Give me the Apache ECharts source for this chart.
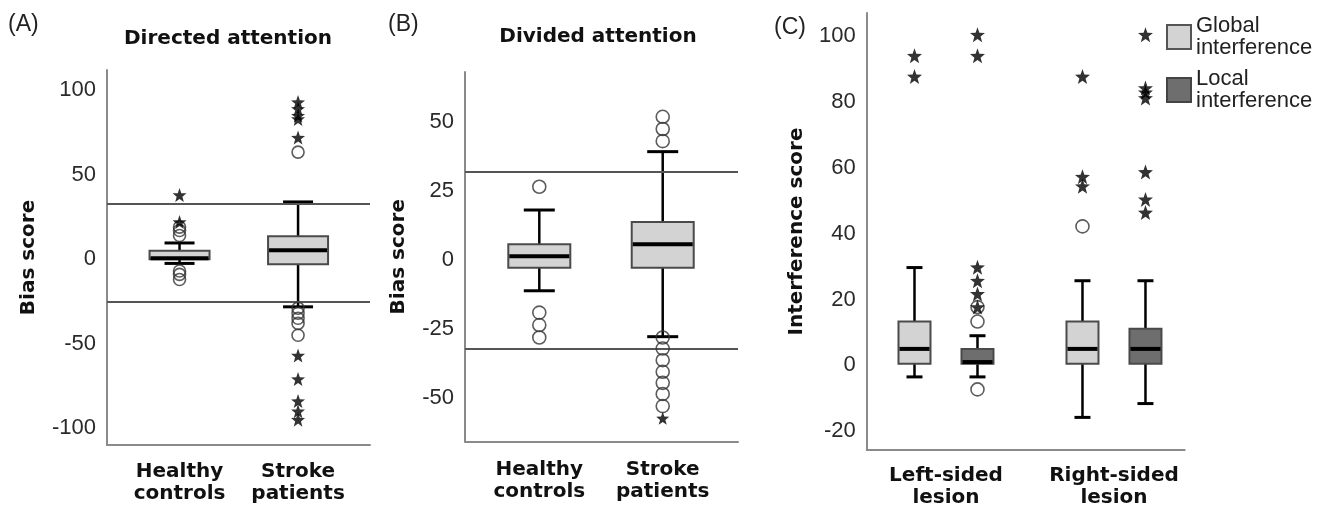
<!DOCTYPE html>
<html><head><meta charset="utf-8">
<script src="https://cdn.jsdelivr.net/npm/echarts@6/dist/echarts.min.js"></script>
<style>html,body{margin:0;padding:0;background:#fff}#c{width:1331px;height:509px}</style>
</head><body><div id="c"></div><script>
// ---------- DATA ----------
// Panel A: Directed attention
const A_categories = ['Healthy\ncontrols', 'Stroke\npatients'];
const A_stats = [            // [min, Q1, median, Q3, max]
  [-2.5, 0, 0.5, 5, 9.6],
  [-28.2, -3, 5.3, 13.6, 33.9]
];
const A_circles = [[19, 17, 14, -7, -9, -12], [63.4, -29, -32, -35, -38, -45]];
const A_stars = [[38, 22], [93, 89, 85, 83, 72, -57, -71, -84, -90, -95]];
const A_refLines = [33, -25];
const A_ticks = [-100, -50, 0, 50, 100];

// Panel B: Divided attention
const B_categories = ['Healthy\ncontrols', 'Stroke\npatients'];
const B_stats = [
  [-11.1, -2.8, 1.4, 5.7, 18.1],
  [-27.7, -2.8, 5.7, 13.8, 39.2]
];
const B_circles = [[26.5, -19, -23.5, -28], [51.8, 47.4, 43, -28, -32, -36.2, -40.4, -44.4, -48.4, -52.8]];
const B_stars = [[], [-57.2]];
const B_refLines = [32, -32];
const B_ticks = [-50, -25, 0, 25, 50];

// Panel C: Interference
const C_categories = ['Left-sided\nlesion', 'Right-sided\nlesion'];
const C_series = ['Global interference', 'Local interference'];
const C_globalStats = [[-3.5, 0.5, 5, 13.3, 29.7], [-15.8, 0.5, 5, 13.3, 25.7]];
const C_localStats = [[-3.5, 0.5, 1.0, 5.0, 9.0], [-11.6, 0.5, 5, 11.1, 25.7]];
const C_globalCircles = [[], [42.2]];
const C_globalStars = [[94, 87.7], [87.7, 57.3, 54.4]];
const C_localCircles = [[-7.3, 13.3, 17.7], []];
const C_localStars = [[100.4, 94, 29.8, 25.7, 21.7, 17.7], [100.4, 84.2, 82.9, 81.2, 58.7, 50.4, 46.4]];
const C_ticks = [-20, 0, 20, 40, 60, 80, 100];

// ---------- STYLE / LAYOUT ----------
const STAR = 'path://M0,-10L2.4,-3.3L9.5,-3.1L3.9,1.3L5.9,8.1L0,4.1L-5.9,8.1L-3.9,1.3L-9.5,-3.1L-2.4,-3.3Z';
const LIGHT = '#d3d3d3', DARK = '#6e6e6e';
const C_OFFSET = 0.1875; // half distance between paired boxes (category units)
const tickFont = {fontFamily: 'Liberation Sans', fontSize: 22, color: '#2a2a2a'};
const boldFont = {fontFamily: 'DejaVu Sans', fontWeight: 'bold', fontSize: 20, color: '#111'};

function boxRender(boxW, capW, fill) {
  return function (params, api) {
    const x = api.value(0);
    const p = [1, 2, 3, 4, 5].map(d => api.coord([x, api.value(d)]));
    const cx = p[0][0];
    const yMin = p[0][1], yQ1 = p[1][1], yMed = p[2][1], yQ3 = p[3][1], yMax = p[4][1];
    const ln = (x1, y1, x2, y2, w) => ({type: 'line', shape: {x1, y1, x2, y2}, style: {stroke: '#000', lineWidth: w}});
    return {type: 'group', children: [
      ln(cx, yMax, cx, yQ3, 2.5),
      ln(cx, yQ1, cx, yMin, 2.5),
      ln(cx - capW / 2, yMax, cx + capW / 2, yMax, 3),
      ln(cx - capW / 2, yMin, cx + capW / 2, yMin, 3),
      {type: 'rect', shape: {x: cx - boxW / 2, y: yQ3, width: boxW, height: yQ1 - yQ3},
       style: {fill: fill, stroke: '#4a4a4a', lineWidth: 2}},
      ln(cx - boxW / 2 + 1, yMed, cx + boxW / 2 - 1, yMed, 4)
    ]};
  };
}
function points(lists, off) {
  const out = [];
  lists.forEach((l, i) => l.forEach(v => out.push([i + off, v])));
  return out;
}
function xAxisCfg(idx, min, max, cats, margin) {
  return {gridIndex: idx, type: 'value', min, max,
    axisLine: {show: true, onZero: false, lineStyle: {color: '#8a8a8a', width: 2}},
    axisTick: {show: false}, splitLine: {show: false},
    axisLabel: {customValues: [0, 1], formatter: v => cats[Math.round(v)], margin: margin,
      lineHeight: 22, ...boldFont}};
}
function yAxisCfg(idx, min, max, ticks, name, gap) {
  return {gridIndex: idx, type: 'value', min, max, name, nameLocation: 'middle', nameGap: gap,
    nameTextStyle: {...boldFont},
    axisLine: {show: true, onZero: false, lineStyle: {color: '#8a8a8a', width: 2}},
    axisTick: {show: false}, splitLine: {show: false},
    axisLabel: {customValues: ticks, margin: 11, ...tickFont}};
}
function circleSeries(idx, data, size, extra) {
  return Object.assign({type: 'scatter', xAxisIndex: idx, yAxisIndex: idx, data, symbol: 'circle', symbolSize: size,
    itemStyle: {color: 'rgba(0,0,0,0)', borderColor: '#333', borderWidth: 1.6}, z: 5, silent: true}, extra || {});
}
function starSeries(idx, data, size) {
  return {type: 'scatter', xAxisIndex: idx, yAxisIndex: idx, data, symbol: STAR, symbolSize: size,
    itemStyle: {color: '#000'}, z: 6, silent: true};
}
function refLines(vals) {
  return {silent: true, symbol: 'none', label: {show: false},
    lineStyle: {color: '#555', width: 2, type: 'solid'}, data: vals.map(v => ({yAxis: v}))};
}

const option = {
  animation: false,
  backgroundColor: '#fff',
  grid: [
    {left: 107, top: 70, width: 263, height: 375},
    {left: 465, top: 72, width: 273, height: 369.5},
    {left: 866.7, top: 13, width: 318, height: 438.7}
  ],
  xAxis: [
    xAxisCfg(0, -0.612, 1.607, A_categories, 16),
    xAxisCfg(1, -0.602, 1.61, B_categories, 17),
    xAxisCfg(2, -0.472, 1.421, C_categories, 15)
  ],
  yAxis: [
    yAxisCfg(0, -110, 112, A_ticks, 'Bias score', 68),
    yAxisCfg(1, -65.6, 68, B_ticks, 'Bias score', 56),
    yAxisCfg(2, -25.7, 107, C_ticks, 'Interference score', 60)
  ],
  legend: {
    orient: 'vertical', left: 1166, top: 15, padding: 0, itemWidth: 24, itemHeight: 24, itemGap: 9,
    selectedMode: false, formatter: n => n.replace(' ', '\n'),
    textStyle: {fontFamily: 'Liberation Sans', fontSize: 22, lineHeight: 22, color: '#222'},
    data: [
      {name: C_series[0], icon: 'rect', itemStyle: {color: LIGHT, borderColor: '#555', borderWidth: 2}},
      {name: C_series[1], icon: 'rect', itemStyle: {color: DARK, borderColor: '#444', borderWidth: 2}}
    ]
  },
  graphic: [
    {type: 'text', x: 228, y: 39, style: {text: 'Directed attention', align: 'center', verticalAlign: 'middle', ...boldFont, fill: '#111'}},
    {type: 'text', x: 598, y: 37, style: {text: 'Divided attention', align: 'center', verticalAlign: 'middle', ...boldFont, fill: '#111'}},
    {type: 'text', x: 8, y: 25, style: {text: '(A)', verticalAlign: 'middle', fontFamily: 'Liberation Sans', fontSize: 23, fill: '#222'}},
    {type: 'text', x: 388, y: 25, style: {text: '(B)', verticalAlign: 'middle', fontFamily: 'Liberation Sans', fontSize: 23, fill: '#222'}},
    {type: 'text', x: 774, y: 28, style: {text: '(C)', verticalAlign: 'middle', fontFamily: 'Liberation Sans', fontSize: 23, fill: '#222'}}
  ],
  series: [
    {type: 'custom', xAxisIndex: 0, yAxisIndex: 0, renderItem: boxRender(60, 30, LIGHT),
     data: A_stats.map((s, i) => [i, ...s]), encode: {x: 0, y: [1, 2, 3, 4, 5]}, z: 3, silent: true},
    circleSeries(0, points(A_circles, 0), 12, {markLine: refLines(A_refLines)}),
    starSeries(0, points(A_stars, 0), 14),

    {type: 'custom', xAxisIndex: 1, yAxisIndex: 1, renderItem: boxRender(62, 31, LIGHT),
     data: B_stats.map((s, i) => [i, ...s]), encode: {x: 0, y: [1, 2, 3, 4, 5]}, z: 3, silent: true},
    circleSeries(1, points(B_circles, 0), 13, {markLine: refLines(B_refLines)}),
    starSeries(1, points(B_stars, 0), 13),

    {type: 'custom', name: C_series[0], xAxisIndex: 2, yAxisIndex: 2, renderItem: boxRender(32, 16, LIGHT),
     itemStyle: {color: LIGHT},
     data: C_globalStats.map((s, i) => [i - C_OFFSET, ...s]), encode: {x: 0, y: [1, 2, 3, 4, 5]}, z: 3, silent: true},
    {type: 'custom', name: C_series[1], xAxisIndex: 2, yAxisIndex: 2, renderItem: boxRender(32, 16, DARK),
     itemStyle: {color: DARK},
     data: C_localStats.map((s, i) => [i + C_OFFSET, ...s]), encode: {x: 0, y: [1, 2, 3, 4, 5]}, z: 3, silent: true},
    circleSeries(2, points(C_globalCircles, -C_OFFSET), 13),
    circleSeries(2, points(C_localCircles, C_OFFSET), 13),
    starSeries(2, points(C_globalStars, -C_OFFSET), 15),
    starSeries(2, points(C_localStars, C_OFFSET), 15)
  ]
};
const chart = echarts.init(document.getElementById('c'), null, {renderer: 'canvas'});
chart.setOption(option);
</script></body></html>
